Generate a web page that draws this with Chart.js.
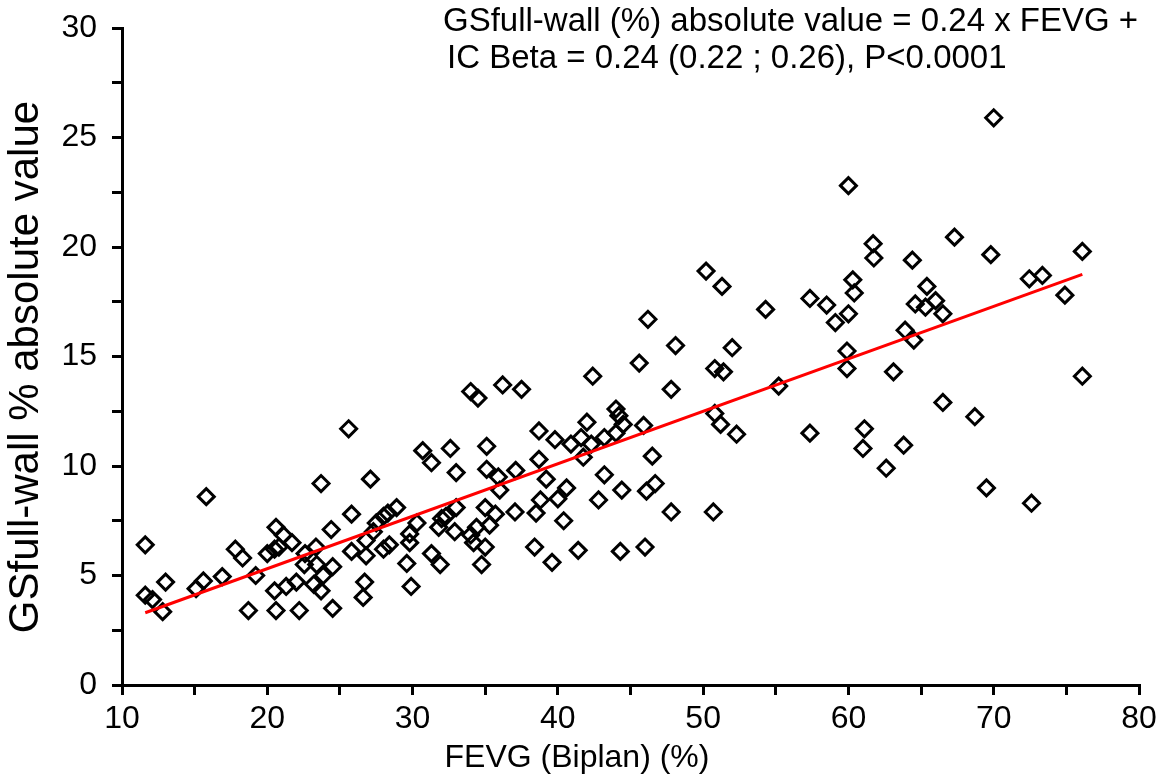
<!DOCTYPE html>
<html>
<head>
<meta charset="utf-8">
<script src="https://cdn.jsdelivr.net/npm/chart.js@4"></script>
<style>
  html, body { margin: 0; padding: 0; background: #fff; }
</style>
</head>
<body>
<canvas id="myChart" width="1160" height="779"></canvas>
<script>
// FEVG (Biplan) (%) for each patient
const fevg = [
    11.6, 15.8, 25.6, 23.7, 27.1, 25.8, 20.6, 24.4, 17.8, 18.3,
    20.0, 20.5, 21.1, 21.7, 20.8, 11.6, 12.1, 13.0, 12.8, 15.1,
    15.6, 16.9, 19.2, 18.7, 20.5, 21.3, 22.0, 20.6, 22.2, 24.5,
    22.6, 23.35, 22.55, 23.4, 24.5, 23.85, 23.2, 23.7, 25.8, 26.8,
    26.7, 26.6, 26.8, 27.3,
    42.4, 36.2, 37.5, 34.0, 34.5, 44.0, 44.2, 44.5, 42.0, 38.7,
    39.8, 40.9, 41.6, 42.3, 43.2, 44.0, 41.75, 30.7, 31.3, 32.6,
    33.0, 35.1, 35.1, 35.9, 37.1, 36.0, 38.7, 39.2, 40.6, 40.0,
    38.8, 43.2, 44.4, 42.8, 28.9, 28.3, 28.0, 27.5, 30.3, 29.8,
    32.0, 32.3, 31.8, 33.0, 32.9, 35.0, 35.7, 34.4, 35.3, 34.0,
    34.2, 35.0, 37.05, 38.5, 40.4, 38.4, 39.6, 41.4, 44.3, 29.6,
    31.3, 31.9, 29.9, 34.75, 28.0, 28.4, 29.8,
    48.1, 52.0, 45.6, 50.8, 51.4, 59.9, 59.9, 47.8, 55.2, 50.8,
    51.2, 52.3, 45.9, 57.35, 46.5, 46.7, 46.1, 47.8, 50.7, 46.0,
    46.2, 50.2, 51.3, 61.75, 64.4, 60.3, 60.4, 57.35, 58.5, 60.0,
    59.1, 54.3, 65.4, 64.6, 65.3, 66.0, 63.9, 64.5, 63.1, 61.1,
    61.0, 63.8, 62.6, 66.5,
    60.0, 61.7, 67.3, 69.8, 76.1, 66.5, 72.45, 73.35, 74.9, 76.1,
    68.7, 70.0, 69.5, 72.6
];

// GSfull-wall % absolute value, same order
const gsAbs = [
    6.4, 8.6, 11.7, 9.2, 9.4, 7.8, 7.2, 7.1, 6.2, 5.8,
    6.0, 6.2, 6.85, 6.5, 6.3, 4.1, 3.9, 4.7, 3.35, 4.4,
    4.75, 4.95, 5.0, 3.4, 4.3, 4.5, 4.7, 3.4, 3.4, 3.5,
    6.0, 6.3, 5.5, 5.5, 5.4, 5.0, 4.6, 4.3, 6.1, 5.9,
    4.7, 4.0, 6.6, 7.0,
    14.1, 13.7, 13.5, 13.4, 13.1, 12.6, 12.3, 11.9, 12.0, 11.6,
    11.2, 11.0, 11.3, 11.0, 11.3, 11.5, 10.4, 10.7, 10.15, 10.8,
    9.7, 10.9, 9.85, 9.5, 9.8, 8.9, 10.3, 9.4, 9.0, 8.5,
    8.45, 9.6, 8.9, 8.45, 8.1, 7.85, 7.7, 7.4, 7.4, 6.9,
    7.6, 7.7, 7.2, 8.1, 7.0, 8.1, 7.8, 7.2, 7.3, 6.85,
    6.5, 6.3, 7.9, 7.85, 7.5, 6.3, 5.6, 6.15, 6.1, 5.55,
    6.0, 5.5, 4.5, 5.5, 6.2, 6.4, 6.5,
    15.5, 15.4, 14.7, 14.45, 14.3, 15.25, 14.45, 13.5, 13.65, 12.4,
    11.9, 11.45, 11.85, 11.5, 10.45, 9.2, 8.85, 7.9, 7.9, 6.3,
    16.7, 18.9, 18.2, 19.5, 19.4, 18.5, 17.9, 17.65, 17.35, 16.95,
    16.55, 17.15, 18.2, 17.4, 17.25, 17.55, 16.2, 15.75, 14.3, 11.7,
    10.8, 10.95, 9.9, 12.9,
    22.8, 20.15, 20.45, 19.65, 19.8, 16.95, 18.55, 18.7, 17.8, 14.1,
    12.25, 25.9, 9.0, 8.3
];

// regression line end points
const fitX = [11.6, 76.1];
const fitY = [3.3, 18.75];

const xTickLabels = [10, 20, 30, 40, 50, 60, 70, 80];
const yTickLabels = [0, 5, 10, 15, 20, 25, 30];

const xTitle = 'FEVG (Biplan) (%)';
const yTitle = 'GSfull-wall % absolute value';
const noteLines = [
    'GSfull-wall (%) absolute value = 0.24 x FEVG +',
    'IC Beta = 0.24 (0.22 ; 0.26), P<0.0001'
];

const FONT = '"Liberation Sans", Arial, sans-serif';

// equation text + axis titles (placed off-centre like the original)
const textPlugin = {
    id: 'texts',
    afterDraw(chart) {
        const ctx = chart.ctx;
        ctx.save();
        ctx.fillStyle = '#000';
        ctx.textBaseline = 'middle';

        ctx.font = '33px ' + FONT;
        ctx.textAlign = 'left';
        ctx.fillText(noteLines[0], 443, 22);
        ctx.fillText(noteLines[1], 447, 59);

        ctx.font = '32px ' + FONT;
        ctx.textAlign = 'center';
        ctx.fillText(xTitle, 577, 758);

        ctx.font = '42px ' + FONT;
        ctx.translate(26, 367);
        ctx.rotate(-Math.PI / 2);
        ctx.fillText(yTitle, 0, 0);
        ctx.restore();
    }
};

const axisGrid = {
    drawOnChartArea: false,
    drawTicks: true,
    tickLength: 10,
    color: '#000',
    lineWidth: 3
};

const config = {
    type: 'scatter',
    data: {
        datasets: [
            {
                label: 'fit',
                data: fitX.map((x, i) => ({x: x, y: fitY[i]})),
                showLine: true,
                borderColor: '#ff0000',
                borderWidth: 3,
                pointRadius: 0,
                fill: false,
                order: 0
            },
            {
                label: 'patients',
                data: fevg.map((x, i) => ({x: x, y: gsAbs[i]})),
                pointStyle: 'rectRot',
                pointRadius: 8,
                borderWidth: 3,
                borderColor: '#000',
                backgroundColor: 'rgba(0,0,0,0)',
                order: 1
            }
        ]
    },
    options: {
        responsive: false,
        animation: false,
        layout: {
            padding: {top: 28, right: 21, left: 0, bottom: 0}
        },
        plugins: {
            legend: {display: false},
            tooltip: {enabled: false}
        },
        scales: {
            x: {
                type: 'linear',
                min: 10,
                max: 80,
                afterFit: (s) => {
                    s.height = 94;
                    s.paddingLeft = 0;
                    s.paddingRight = 0;
                },
                ticks: {
                    stepSize: 5,
                    autoSkip: false,
                    maxRotation: 0,
                    padding: 5,
                    color: '#000',
                    font: {family: FONT, size: 32},
                    callback: (v) => xTickLabels.includes(v) ? v : ''
                },
                grid: axisGrid,
                border: {color: '#000', width: 3}
            },
            y: {
                min: 0,
                max: 30,
                afterFit: (s) => {
                    s.width = 122;
                    s.paddingTop = 0;
                    s.paddingBottom = 0;
                },
                ticks: {
                    stepSize: 2.5,
                    autoSkip: false,
                    padding: 15,
                    color: '#000',
                    font: {family: FONT, size: 32},
                    callback: (v) => yTickLabels.includes(v) ? v : ''
                },
                grid: axisGrid,
                border: {color: '#000', width: 3}
            }
        }
    },
    plugins: [textPlugin]
};

const myChart = new Chart(
    document.getElementById('myChart'),
    config
);
</script>
</body>
</html>
